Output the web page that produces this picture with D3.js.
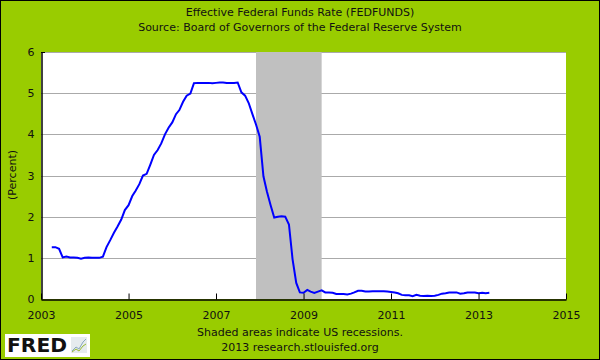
<!DOCTYPE html>
<html><head><meta charset="utf-8">
<script src="https://cdn.jsdelivr.net/npm/d3@7/dist/d3.min.js"></script>
<style>body{margin:0;background:#fff}svg{display:block}text{font-family:"DejaVu Sans",sans-serif;fill:#111}</style>
</head><body><svg id="c" width="600" height="360"></svg>
<script>
// Monthly effective federal funds rate, Apr 2003 – Apr 2013
const startMonth = "2003-04";
const rates = [
 1.26,1.26,1.22,1.01,1.03,1.01,1.01,1.00,0.98,
 1.00,1.01,1.00,1.00,1.00,1.03,1.26,1.43,1.61,1.76,1.93,2.16,
 2.28,2.50,2.63,2.79,3.00,3.04,3.26,3.50,3.62,3.78,4.00,4.16,
 4.29,4.49,4.59,4.79,4.94,4.99,5.24,5.25,5.25,5.25,5.25,5.24,
 5.25,5.26,5.26,5.25,5.25,5.25,5.26,5.02,4.94,4.76,4.49,4.24,
 3.94,2.98,2.61,2.28,1.98,2.00,2.01,2.00,1.81,0.97,0.39,0.16,
 0.15,0.22,0.18,0.15,0.18,0.21,0.16,0.16,0.15,0.12,0.12,0.12,
 0.11,0.13,0.16,0.20,0.20,0.18,0.18,0.19,0.19,0.19,0.19,0.18,
 0.17,0.16,0.14,0.10,0.09,0.09,0.07,0.10,0.08,0.07,0.08,0.07,
 0.08,0.10,0.13,0.14,0.16,0.16,0.16,0.13,0.14,0.16,0.16,0.16,
 0.14,0.15,0.14,0.15
];
const recessions = [["2007-12","2009-06"]];
const xTicks = [2003,2005,2007,2009,2011,2013,2015];
const yTicks = [0,1,2,3,4,5,6];
const titleLines = ["Effective Federal Funds Rate (FEDFUNDS)","Source: Board of Governors of the Federal Reserve System"];
const footLines = ["Shaded areas indicate US recessions.","2013 research.stlouisfed.org"];
const yLabel = "(Percent)";

const parseM = d3.timeParse("%Y-%m");
const t0 = parseM(startMonth);
const data = rates.map((v,i)=>({date:d3.timeMonth.offset(t0,i), v}));

const svg = d3.select("#c");
svg.append("rect").attr("x",0.5).attr("y",0.5).attr("width",599).attr("height",359)
  .attr("fill","#99CC00").attr("stroke","#000");

const L=41,R=566,T=52,B=299;
const x = d3.scaleTime().domain([new Date(2003,0,1),new Date(2015,0,1)]).range([L,R]);
const y = d3.scaleLinear().domain([0,6]).range([B,T]);

svg.append("rect").attr("x",L).attr("y",T).attr("width",R-L).attr("height",B-T).attr("fill","#fff");

// grid
svg.append("g").selectAll("line").data(yTicks.filter(d=>d>0)).join("line")
  .attr("x1",L).attr("x2",R).attr("y1",d=>Math.round(y(d))+0.5).attr("y2",d=>Math.round(y(d))+0.5)
  .attr("stroke","#aaaaaa").attr("stroke-width",1);

// recessions
svg.append("g").selectAll("rect").data(recessions).join("rect")
  .attr("x",d=>x(parseM(d[0]))).attr("width",d=>x(parseM(d[1]))-x(parseM(d[0])))
  .attr("y",T).attr("height",B-T).attr("fill","#C0C0C0");

// line
svg.append("path").datum(data).attr("fill","none").attr("stroke","#0000FF").attr("stroke-width",2)
  .attr("d",d3.line().x(d=>x(d.date)).y(d=>y(d.v)));

// x axis
const xa = svg.append("g").attr("transform",`translate(0,${B+0.5})`)
  .call(d3.axisBottom(x).tickValues(xTicks.map(yr=>new Date(yr,0,1))).tickFormat(d3.timeFormat("%Y")).tickSizeInner(-6).tickSizeOuter(0).tickPadding(12));
xa.select(".domain").attr("stroke","#000").attr("stroke-width",1.5);
xa.selectAll(".tick line").attr("stroke","#000");
xa.selectAll("text").attr("font-size",11).attr("fill","#111").attr("font-family","DejaVu Sans");

// y axis
const ya = svg.append("g").attr("transform",`translate(${L+0.5},0)`)
  .call(d3.axisLeft(y).tickValues(yTicks).tickFormat(d3.format("d")).tickSize(0).tickPadding(7));
ya.select(".domain").attr("stroke","#000").attr("stroke-width",1.5);
ya.selectAll("text").attr("font-size",11).attr("fill","#111").attr("font-family","DejaVu Sans");
svg.append("line").attr("x1",L).attr("x2",L+4).attr("y1",T+0.5).attr("y2",T+0.5).attr("stroke","#000");

// titles
svg.append("g").selectAll("text").data(titleLines).join("text")
  .attr("x",300).attr("y",(d,i)=>16+i*15).attr("text-anchor","middle").attr("font-size",11).text(d=>d);
svg.append("g").selectAll("text").data(footLines).join("text")
  .attr("x",300).attr("y",(d,i)=>336+i*15).attr("text-anchor","middle").attr("font-size",11).text(d=>d);
svg.append("text").attr("transform","translate(16,175) rotate(-90)").attr("text-anchor","middle")
  .attr("font-size",11).text(yLabel);

// FRED logo
const lg = svg.append("g");
lg.append("rect").attr("x",5).attr("y",334).attr("width",85).attr("height",23).attr("fill","#fff");
lg.append("text").attr("x",7).attr("y",352).attr("font-size",20).attr("font-weight","bold")
  .attr("font-family","Liberation Sans, Arial, sans-serif").attr("fill","#1a1a1a")
  .attr("textLength",60).attr("lengthAdjust","spacingAndGlyphs").text("FRED");
lg.append("rect").attr("x",71).attr("y",337).attr("width",16).attr("height",16).attr("fill","#e6ebee");
lg.append("polyline").attr("points","72,351 76,347 79,349 83,342 86,339").attr("fill","none").attr("stroke","#8aa8c0").attr("stroke-width",1);
lg.append("polyline").attr("points","72,352 76,349 79,351 83,346 86,344").attr("fill","none").attr("stroke","#99bb33").attr("stroke-width",1);
</script></body></html>
